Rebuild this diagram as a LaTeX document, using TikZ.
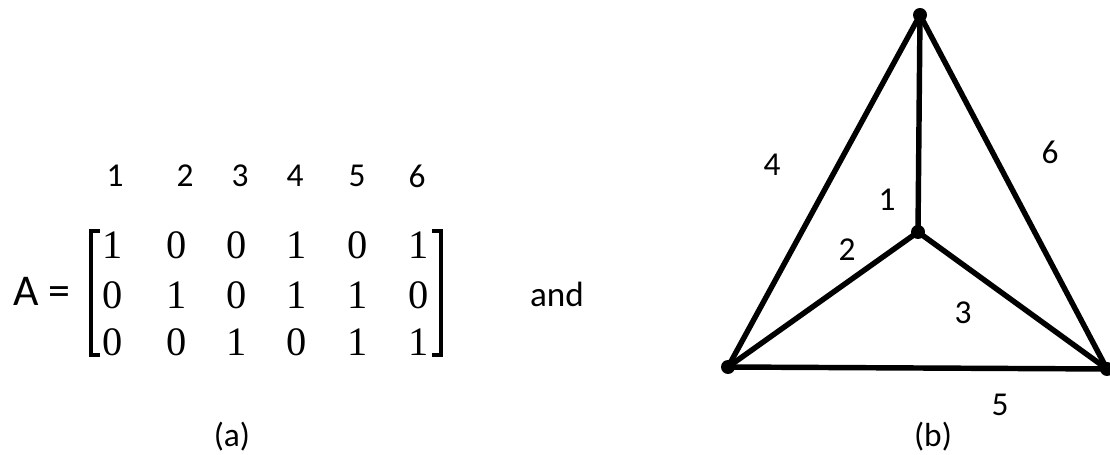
\documentclass[tikz,border=0pt]{standalone}
\usepackage{fontspec}
\newfontfamily\calibri{Carlito}
\newfontfamily\cambria{Liberation Serif}

\begin{document}
\begin{tikzpicture}[
  x=0.02cm, y=-0.02cm,
  every node/.style={inner sep=0pt},
  hdr/.style={font=\calibri\fontsize{19}{21}\selectfont},
  ent/.style={font=\cambria\fontsize{23}{26}\selectfont},
  lbl/.style={font=\calibri\fontsize{19}{21}\selectfont},
  brak/.style={line width=1.8pt},
  edge/.style={line width=3.1pt, line cap=round},
  vtx/.style={circle, fill=black, minimum size=0.28cm},
]
\useasboundingbox (0,0) rectangle (1110,455);

% ===== (a): MATRIX =====
\node[font=\calibri\fontsize{25}{28}\selectfont] (lhs) at (42,291) {A =};

% column numbers
\foreach \x [count=\c] in {115,185,240,295,357,417}
  \node[hdr] (h\c) at (\x,176) {\c};

% entries
\foreach \row [count=\r] in {{1,0,0,1,0,1},{0,1,0,1,1,0},{0,0,1,0,1,1}} {
  \foreach \v [count=\c] in \row {
    \pgfmathsetmacro\cx{{113,177,237,297,358,419}[\c-1]}
    \pgfmathsetmacro\cy{{245,295,342}[\r-1]}
    \node[ent] (m\r\c) at (\cx,\cy) {\v};
  }
}

% brackets
\draw[brak] (100,231) -- (91,231) -- (91,355) -- (100,355);
\draw[brak] (432,231) -- (441,231) -- (441,355) -- (432,355);

\node[lbl, font=\calibri\fontsize{20}{22}\selectfont] (and) at (557,294) {and};
\node[lbl] (capa) at (232,437) {(a)};

% ===== (b): GRAPH =====
\node[vtx] (top)   at (920,15)  {};
\node[vtx] (mid)   at (918,232) {};
\node[vtx] (left)  at (728,367) {};
\node[vtx] (right) at (1107,369) {};

\draw[edge] (top.center) -- (mid.center);
\draw[edge] (mid.center) -- (left.center);
\draw[edge] (mid.center) -- (right.center);
\draw[edge] (top.center) -- (left.center);
\draw[edge] (left.center) -- (right.center);
\draw[edge] (top.center) -- (right.center);

% edge numbers
\node[lbl] (e1) at (887,200) {1};
\node[lbl] (e2) at (847,250) {2};
\node[lbl] (e3) at (963,313) {3};
\node[lbl] (e4) at (772,165) {4};
\node[lbl] (e5) at (1000,405) {5};
\node[lbl] (e6) at (1050,152) {6};

\node[lbl] (capb) at (933,437) {(b)};

\end{tikzpicture}
\end{document}
